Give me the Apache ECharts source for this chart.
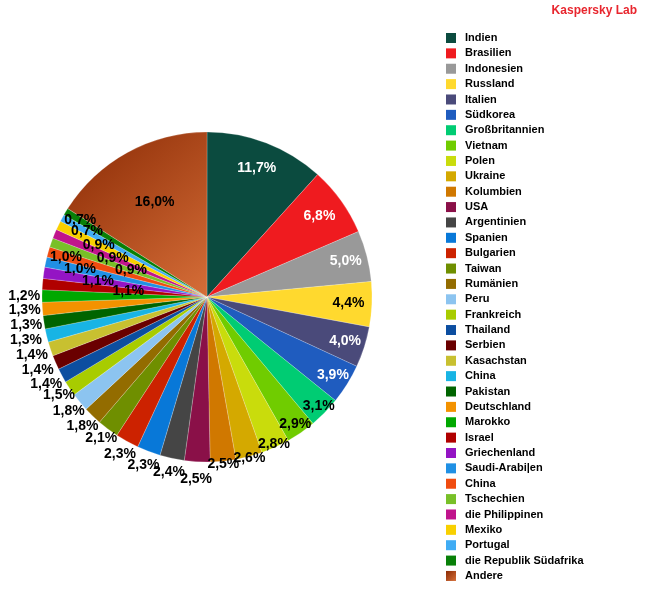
<!DOCTYPE html>
<html>
<head>
<meta charset="utf-8">
<script src="https://cdn.jsdelivr.net/npm/echarts@6/dist/echarts.min.js"></script>
<style>
html,body{margin:0;padding:0;background:#fff;}
#chart{width:650px;height:600px;}
</style>
</head>
<body>
<div id="chart"></div>
<script>
// ---- data ----
const categories = ['Indien','Brasilien','Indonesien','Russland','Italien','Südkorea','Großbritannien','Vietnam','Polen','Ukraine','Kolumbien','USA','Argentinien','Spanien','Bulgarien','Taiwan','Rumänien','Peru','Frankreich','Thailand','Serbien','Kasachstan','China','Pakistan','Deutschland','Marokko','Israel','Griechenland','Saudi-Arabi|en','China ','Tschechien','die Philippinen','Mexiko','Portugal','die Republik Südafrika','Andere'];
const shares = [11.7,6.8,5.0,4.4,4.0,3.9,3.1,2.9,2.8,2.6,2.5,2.5,2.4,2.3,2.3,2.1,1.8,1.8,1.5,1.4,1.4,1.4,1.3,1.3,1.3,1.2,1.1,1.1,1.0,1.0,0.9,0.9,0.9,0.7,0.7,16.0];

// ---- styles ----
const sliceColors = ['#0b4b3f','#ef1b1f','#999999','#ffd92e','#4a4a7a','#1f5cbf','#00cc73','#70cc00','#c9dc0c','#d4a900','#d07800','#8a1048','#454545','#0878d8','#cc2200','#6f8f00','#936c00','#8cc4f0','#a8cc00','#0c4ea0','#6a0000','#c8c030','#18b4e4','#006400','#f39200','#00a800','#b00000','#9414c4','#2090e4','#f04c10','#78c028','#c0148c','#f8d000','#40acf4','#088008','andere'];
const whiteLabels = [0,1,2,4,5];
// label distance from centre, as a fraction of the pie radius
const labelRadii = [0.82,0.82,0.85,0.84,0.86,0.88,0.93,0.92,0.96,0.99,1.0,1.09,1.07,1.07,1.07,1.05,1.07,1.07,1.06,1.09,1.1,1.1,1.11,1.09,1.09,1.09,0.46,0.65,0.77,0.87,0.47,0.6,0.71,0.81,0.88,0.64];

const R = 165, C = [207, 297];
const fmt = v => v.toFixed(1).replace('.', ',') + '%';

function colorOf(i) {
  if (sliceColors[i] === 'andere') {
    return new echarts.graphic.LinearGradient(0, 0, 1, 1, [
      {offset: 0, color: '#8a2a04'}, {offset: 1, color: '#d66e38'}
    ]);
  }
  return sliceColors[i];
}

const mainSeries = {
  type: 'pie', center: C, radius: R, startAngle: 90, clockwise: true,
  avoidLabelOverlap: false, animation: false,
  label: {show: false}, labelLine: {show: false},
  emphasis: {disabled: true},
  itemStyle: {borderColor: 'rgba(255,255,255,0.35)', borderWidth: 0.6},
  data: categories.map((n, i) => ({name: n, value: shares[i], itemStyle: {color: colorOf(i)}}))
};

const tiers = [...new Set(labelRadii)];
const labelSeries = tiers.map(k => ({
  type: 'pie', center: C, radius: [k * R - 0.5, k * R + 0.5], startAngle: 90, clockwise: true,
  silent: true, animation: false, avoidLabelOverlap: false,
  labelLayout: {hideOverlap: false},
  emphasis: {disabled: true},
  itemStyle: {color: 'rgba(0,0,0,0)', borderWidth: 0},
  labelLine: {show: false},
  label: {
    show: true, position: 'inside', fontSize: 14, fontWeight: 'bold',
    fontFamily: 'Liberation Sans, Arial, sans-serif',
    formatter: p => fmt(p.value)
  },
  data: categories.map((n, i) => ({
    name: n, value: shares[i],
    label: {show: labelRadii[i] === k, color: whiteLabels.includes(i) ? '#ffffff' : '#000000'}
  }))
}));

const chart = echarts.init(document.getElementById('chart'), null, {renderer: 'canvas'});
chart.setOption({
  backgroundColor: '#ffffff',
  animation: false,
  textStyle: {fontFamily: 'Liberation Sans, Arial, sans-serif'},
  title: {
    text: 'Kaspersky Lab', right: 8, top: 0,
    textStyle: {color: '#e8262e', fontSize: 12, fontWeight: 'bold', fontFamily: 'Liberation Sans, Arial, sans-serif'}
  },
  legend: {
    orient: 'vertical', left: 446, top: 32, padding: 0,
    icon: 'rect', itemWidth: 10, itemHeight: 10, itemGap: 3.37,
    itemStyle: {borderWidth: 0},
    selectedMode: false,
    textStyle: {fontSize: 11, fontWeight: 'bold', color: '#000', lineHeight: 12, padding: [0, 0, 0, 4],
      fontFamily: 'Liberation Sans, Arial, sans-serif'},
    data: categories
  },
  series: [mainSeries].concat(labelSeries)
});
</script>
</body>
</html>
